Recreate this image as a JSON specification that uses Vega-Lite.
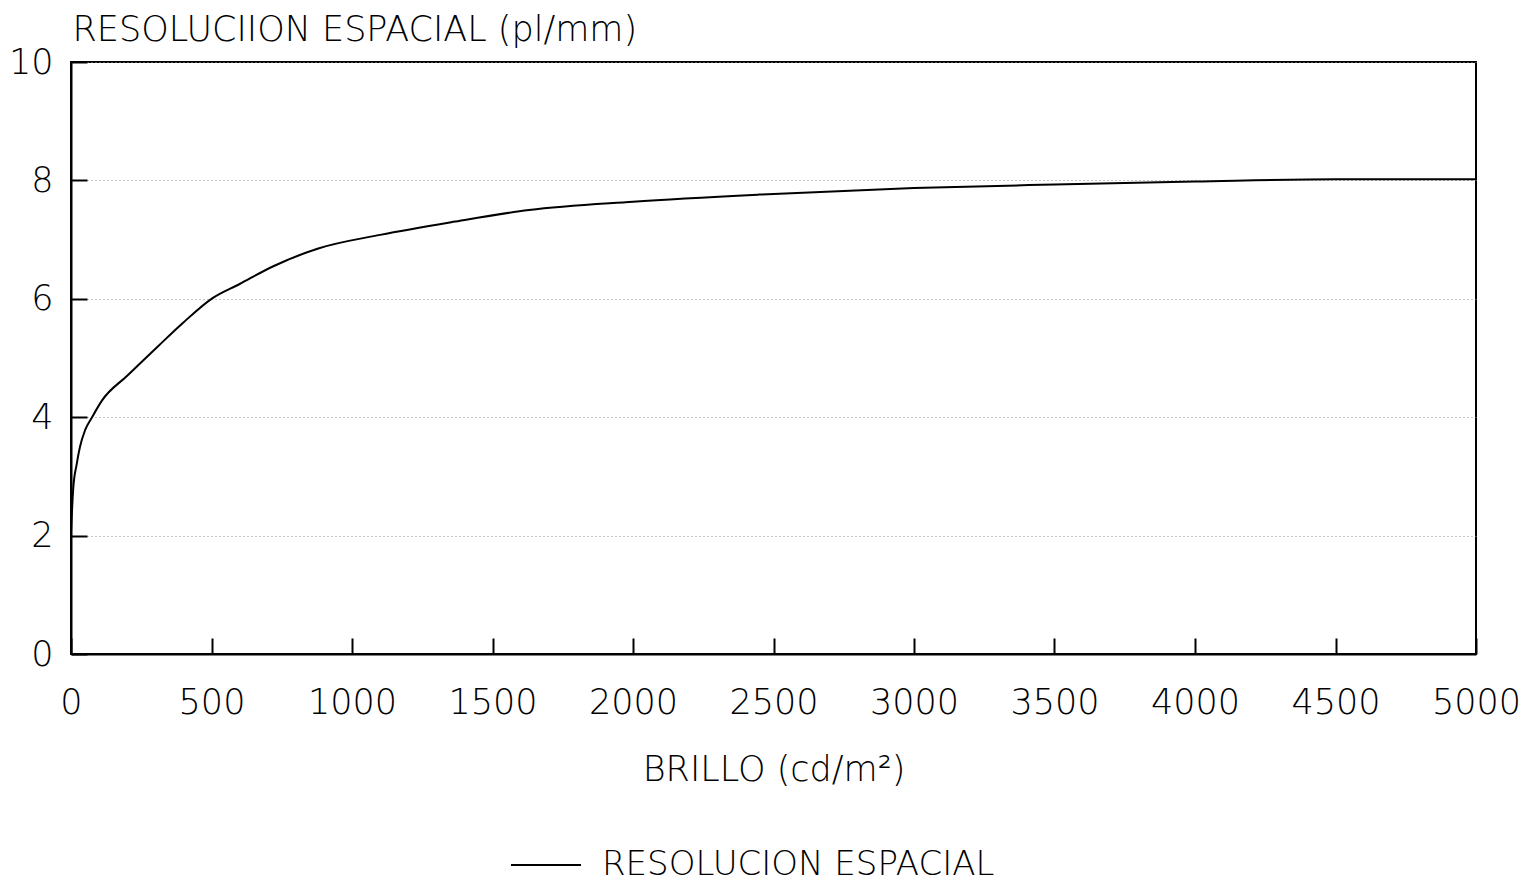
{
  "$schema": "https://vega.github.io/schema/vega-lite/v6.json",
  "width": 1405,
  "height": 592,
  "autosize": "none",
  "padding": {"left": 71, "top": 62, "right": 50, "bottom": 231},
  "background": "white",
  "config": {
    "view": {"stroke": "black", "strokeWidth": 2},
    "font": "DejaVu Sans"
  },
  "data": {
    "values": [
      {"brillo": 0, "resolucion": 2.05, "serie": "RESOLUCION ESPACIAL"},
      {"brillo": 8, "resolucion": 2.8, "serie": "RESOLUCION ESPACIAL"},
      {"brillo": 20, "resolucion": 3.2, "serie": "RESOLUCION ESPACIAL"},
      {"brillo": 32, "resolucion": 3.5, "serie": "RESOLUCION ESPACIAL"},
      {"brillo": 50, "resolucion": 3.78, "serie": "RESOLUCION ESPACIAL"},
      {"brillo": 75, "resolucion": 4.0, "serie": "RESOLUCION ESPACIAL"},
      {"brillo": 110, "resolucion": 4.28, "serie": "RESOLUCION ESPACIAL"},
      {"brillo": 200, "resolucion": 4.7, "serie": "RESOLUCION ESPACIAL"},
      {"brillo": 310, "resolucion": 5.2, "serie": "RESOLUCION ESPACIAL"},
      {"brillo": 400, "resolucion": 5.6, "serie": "RESOLUCION ESPACIAL"},
      {"brillo": 500, "resolucion": 6.0, "serie": "RESOLUCION ESPACIAL"},
      {"brillo": 600, "resolucion": 6.25, "serie": "RESOLUCION ESPACIAL"},
      {"brillo": 720, "resolucion": 6.55, "serie": "RESOLUCION ESPACIAL"},
      {"brillo": 880, "resolucion": 6.85, "serie": "RESOLUCION ESPACIAL"},
      {"brillo": 1100, "resolucion": 7.08, "serie": "RESOLUCION ESPACIAL"},
      {"brillo": 1360, "resolucion": 7.3, "serie": "RESOLUCION ESPACIAL"},
      {"brillo": 1630, "resolucion": 7.5, "serie": "RESOLUCION ESPACIAL"},
      {"brillo": 2000, "resolucion": 7.64, "serie": "RESOLUCION ESPACIAL"},
      {"brillo": 2450, "resolucion": 7.76, "serie": "RESOLUCION ESPACIAL"},
      {"brillo": 3000, "resolucion": 7.87, "serie": "RESOLUCION ESPACIAL"},
      {"brillo": 3500, "resolucion": 7.93, "serie": "RESOLUCION ESPACIAL"},
      {"brillo": 4000, "resolucion": 7.98, "serie": "RESOLUCION ESPACIAL"},
      {"brillo": 4500, "resolucion": 8.02, "serie": "RESOLUCION ESPACIAL"},
      {"brillo": 5000, "resolucion": 8.02, "serie": "RESOLUCION ESPACIAL"}
    ]
  },
  "mark": {"type": "line", "strokeWidth": 2, "interpolate": "monotone"},
  "encoding": {
    "x": {
      "field": "brillo",
      "type": "quantitative",
      "scale": {"domain": [0, 5000], "nice": false},
      "axis": {
        "values": [0, 500, 1000, 1500, 2000, 2500, 3000, 3500, 4000, 4500, 5000],
        "format": "d",
        "grid": false,
        "tickSize": -16,
        "tickColor": "black",
        "tickWidth": 2,
        "domainColor": "black",
        "domainWidth": 2,
        "labelFont": "DejaVu Sans",
        "labelFontWeight": 200,
        "labelFontSize": 35,
        "labelColor": "black",
        "labelPadding": 47,
        "labelFlush": false,
        "labelOverlap": false,
        "title": "BRILLO (cd/m²)",
        "titleFont": "DejaVu Sans",
        "titleFontWeight": 200,
        "titleFontSize": 35,
        "titleColor": "black",
        "titleBaseline": "alphabetic",
        "titleY": 126
      }
    },
    "y": {
      "field": "resolucion",
      "type": "quantitative",
      "scale": {"domain": [0, 10], "nice": false},
      "axis": {
        "values": [0, 2, 4, 6, 8, 10],
        "grid": true,
        "gridColor": "#8a8a8a",
        "gridDash": [1, 3],
        "gridWidth": 1,
        "tickSize": -16,
        "tickColor": "black",
        "tickWidth": 2,
        "domainColor": "black",
        "domainWidth": 2,
        "labelFont": "DejaVu Sans",
        "labelFontWeight": 200,
        "labelFontSize": 35,
        "labelColor": "black",
        "labelPadding": 34,
        "labelFlush": false,
        "labelOverlap": false,
        "title": "RESOLUCIION ESPACIAL (pl/mm)",
        "titleFont": "DejaVu Sans",
        "titleFontWeight": 200,
        "titleFontSize": 35,
        "titleColor": "black",
        "titleAngle": 0,
        "titleAlign": "left",
        "titleBaseline": "alphabetic",
        "titleX": 1,
        "titleY": -22
      }
    },
    "color": {
      "field": "serie",
      "type": "nominal",
      "scale": {"range": ["black"]},
      "legend": {
        "orient": "none",
        "legendX": 439,
        "legendY": 767,
        "title": null,
        "padding": 0,
        "symbolType": "stroke",
        "symbolSize": 4900,
        "symbolStrokeWidth": 2,
        "labelFont": "DejaVu Sans",
        "labelFontWeight": 200,
        "labelFontSize": 34,
        "labelColor": "black",
        "labelOffset": 20,
        "labelLimit": 0
      }
    }
  }
}
